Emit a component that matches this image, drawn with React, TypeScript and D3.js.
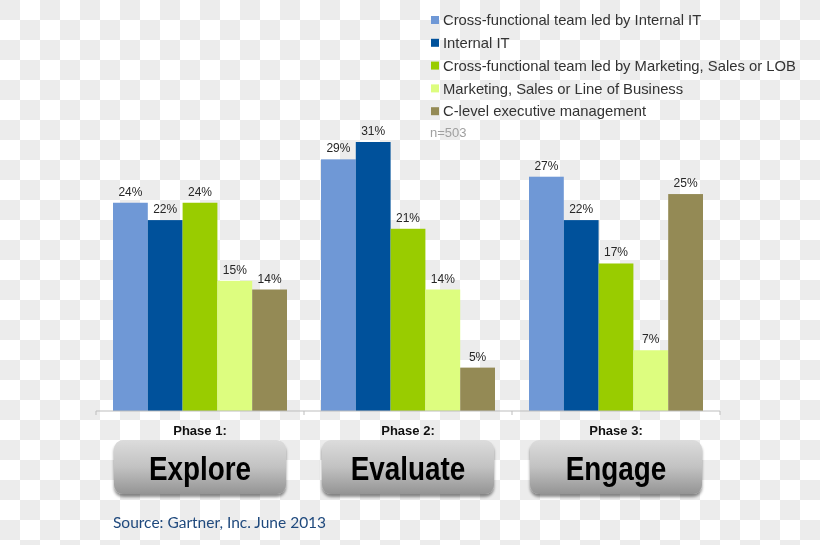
import * as d3 from "d3";

const WIDTH = 820;
const HEIGHT = 545;

const phases = ["Phase 1:", "Phase 2:", "Phase 3:"];
const stages = ["Explore", "Evaluate", "Engage"];

const seriesNames = [
  "Cross-functional team led by Internal IT",
  "Internal IT",
  "Cross-functional team led by Marketing, Sales or LOB",
  "Marketing, Sales or Line of Business",
  "C-level executive management",
];
const seriesColors = ["#6f98d6", "#00519b", "#99cc00", "#ddfd7f", "#948a55"];

// one array per phase, values in %
const phase1 = [24, 22, 24, 15, 14];
const phase2 = [29, 31, 21, 14, 5];
const phase3 = [27, 22, 17, 7, 25];
const values = [phase1, phase2, phase3];

const sampleNote = "n=503";
const sourceNote = "Source: Gartner, Inc. June 2013";

const AXIS_Y = 411;
const LEFT = 96;
const RIGHT = 720;

export default function App() {
  const x0 = d3.scaleBand<string>().domain(phases).range([LEFT, RIGHT]);
  const x1 = d3
    .scaleBand<string>()
    .domain(seriesNames)
    .range([17, x0.bandwidth() - 17]);
  const y = d3.scaleLinear().domain([0, 31]).range([AXIS_Y, 142]);

  const tickXs = [...phases.map((p) => x0(p)!), RIGHT];

  return (
    <svg
      width={WIDTH}
      height={HEIGHT}
      style={{ position: "fixed", left: 0, top: 0 }}
      fontFamily="Arial, 'Liberation Sans', sans-serif"
    >
      <defs>
        <pattern id="checker" width={40} height={40} patternUnits="userSpaceOnUse">
          <rect width={40} height={40} fill="#ffffff" />
          <rect x={0} y={0} width={20} height={20} fill="#ececec" />
          <rect x={20} y={20} width={20} height={20} fill="#ececec" />
        </pattern>
        <linearGradient id="btn" x1="0" y1="0" x2="0" y2="1">
          <stop offset="0%" stopColor="#dcdcdc" />
          <stop offset="50%" stopColor="#c2c2c2" />
          <stop offset="100%" stopColor="#949494" />
        </linearGradient>
        <filter id="shadow" x="-10%" y="-10%" width="120%" height="140%">
          <feGaussianBlur in="SourceAlpha" stdDeviation="1.5" />
          <feOffset dx="0" dy="3" result="b" />
          <feComponentTransfer>
            <feFuncA type="linear" slope="0.45" />
          </feComponentTransfer>
          <feMerge>
            <feMergeNode />
            <feMergeNode in="SourceGraphic" />
          </feMerge>
        </filter>
      </defs>
      <rect width={WIDTH} height={HEIGHT} fill="url(#checker)" />

      {/* legend */}
      <g>
        {seriesNames.map((name, i) => (
          <g key={name} transform={`translate(431,${20 + i * 22.8})`}>
            <rect x={0} y={-4} width={8} height={8} fill={seriesColors[i]} />
            <text x={12} dy="0.35em" fontSize={14.8} fill="#333">
              {name}
            </text>
          </g>
        ))}
        <text x={430} y={132} dy="0.35em" fontSize={13} fill="#a0a0a0">
          {sampleNote}
        </text>
      </g>

      {/* bars */}
      {phases.map((p, pi) => (
        <g key={p} transform={`translate(${x0(p)},0)`}>
          {values[pi].map((v, si) => {
            const bx = x1(seriesNames[si])!;
            return (
              <g key={si}>
                <rect
                  x={bx}
                  y={y(v)}
                  width={x1.bandwidth()}
                  height={AXIS_Y - y(v)}
                  fill={seriesColors[si]}
                />
                <text
                  x={bx + x1.bandwidth() / 2}
                  y={y(v) - 7}
                  textAnchor="middle"
                  fontSize={12}
                  fill="#262626"
                >
                  {v}%
                </text>
              </g>
            );
          })}
        </g>
      ))}

      {/* axis */}
      <line x1={LEFT} x2={RIGHT} y1={AXIS_Y} y2={AXIS_Y} stroke="#bdbdbd" />
      {tickXs.map((t) => (
        <line key={t} x1={t} x2={t} y1={AXIS_Y} y2={AXIS_Y + 4} stroke="#bdbdbd" />
      ))}

      {/* phase labels and buttons */}
      {phases.map((p, pi) => {
        const cx = x0(p)! + x0.bandwidth() / 2;
        return (
          <g key={p}>
            <text
              x={cx}
              y={430}
              dy="0.35em"
              textAnchor="middle"
              fontSize={13}
              fontWeight="bold"
              fill="#111"
            >
              {p}
            </text>
            <rect
              x={cx - 86}
              y={440}
              width={172}
              height={54}
              rx={9}
              fill="url(#btn)"
              filter="url(#shadow)"
            />
            <text
              transform={`translate(${cx},480) scale(0.82,1)`}
              textAnchor="middle"
              fontSize={34}
              fontWeight="bold"
              fill="#000"
            >
              {stages[pi]}
            </text>
          </g>
        );
      })}

      <text x={113} y={528} fontSize={15.5} fill="#1f497d" fontFamily="Lato, 'Open Sans', sans-serif">
        {sourceNote}
      </text>
    </svg>
  );
}
